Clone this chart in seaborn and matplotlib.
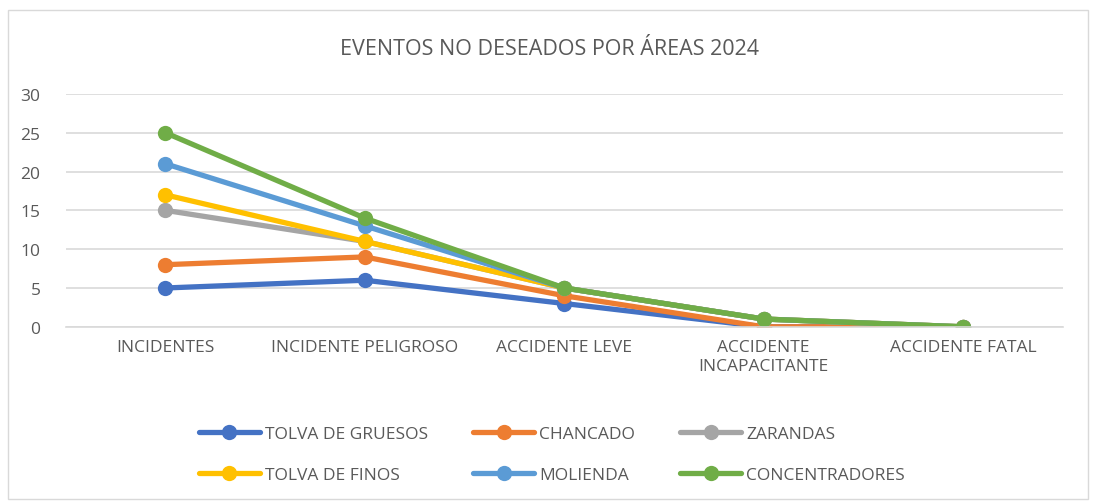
import pandas as pd
import seaborn as sns
import matplotlib.pyplot as plt
from matplotlib.patches import Rectangle

categorias = ["INCIDENTES", "INCIDENTE PELIGROSO", "ACCIDENTE LEVE",
              "ACCIDENTE\nINCAPACITANTE", "ACCIDENTE FATAL"]
areas = ["TOLVA DE GRUESOS", "CHANCADO", "ZARANDAS",
         "TOLVA DE FINOS", "MOLIENDA", "CONCENTRADORES"]
tolva_gruesos = [5, 6, 3, 0, 0]
chancado = [8, 9, 4, 0, 0]
zarandas = [15, 11, 5, 1, 0]
tolva_finos = [17, 11, 5, 1, 0]
molienda = [21, 13, 5, 1, 0]
concentradores = [25, 14, 5, 1, 0]
colores = ["#4472C4", "#ED7D31", "#A5A5A5", "#FFC000", "#5B9BD5", "#70AD47"]

series = [tolva_gruesos, chancado, zarandas, tolva_finos, molienda, concentradores]
filas = []
for area, vals in zip(areas, series):
    for cat, v in zip(categorias, vals):
        filas.append({"categoria": cat, "area": area, "valor": v})
df = pd.DataFrame(filas)

sns.set_style("white")
plt.rcParams["font.family"] = ["Open Sans", "DejaVu Sans"]
gris = "#595959"

fig = plt.figure(figsize=(10.93, 5.02), dpi=100)
ax = fig.add_axes([0.060, 0.347, 0.9125, 0.464])

sns.lineplot(data=df, x="categoria", y="valor", hue="area", hue_order=areas,
             palette=colores, marker="o", markersize=11, markeredgewidth=0,
             linewidth=3.8, ax=ax, legend=True, sort=False)

ax.set_ylim(0, 30)
ax.set_xlim(-0.5, 4.5)
ax.set_yticks(range(0, 31, 5))
ax.yaxis.grid(True, color="#D9D9D9", linewidth=1.2)
ax.set_axisbelow(True)
for s in ["top", "right", "left"]:
    ax.spines[s].set_visible(False)
ax.spines["bottom"].set_color("#D9D9D9")
ax.spines["bottom"].set_linewidth(1.2)
ax.tick_params(axis="both", length=0, labelsize=12.5, colors=gris, pad=9)
ax.tick_params(axis="y", pad=18)
ax.set_xlabel("")
ax.set_ylabel("")
for lbl in ax.get_xticklabels():
    lbl.set_linespacing(1.2)

fig.suptitle("EVENTOS NO DESEADOS POR ÁREAS 2024", x=0.503, y=0.922,
             fontsize=15.5, color=gris)

handles, labels = ax.get_legend_handles_labels()
ax.get_legend().remove()
orden = [0, 3, 1, 4, 2, 5]
leg = fig.legend([handles[i] for i in orden], [labels[i] for i in orden],
                 loc="center", bbox_to_anchor=(0.505, 0.093), ncol=3,
                 frameon=False, fontsize=12.5, handlelength=3.5,
                 handletextpad=0.3, columnspacing=2.6, labelspacing=1.4)
for t in leg.get_texts():
    t.set_color(gris)

fig.add_artist(Rectangle((0.007, 0.004), 0.988, 0.975, transform=fig.transFigure,
                         fill=False, edgecolor="#D9D9D9", linewidth=1))

fig.savefig("out.png", dpi=100)
